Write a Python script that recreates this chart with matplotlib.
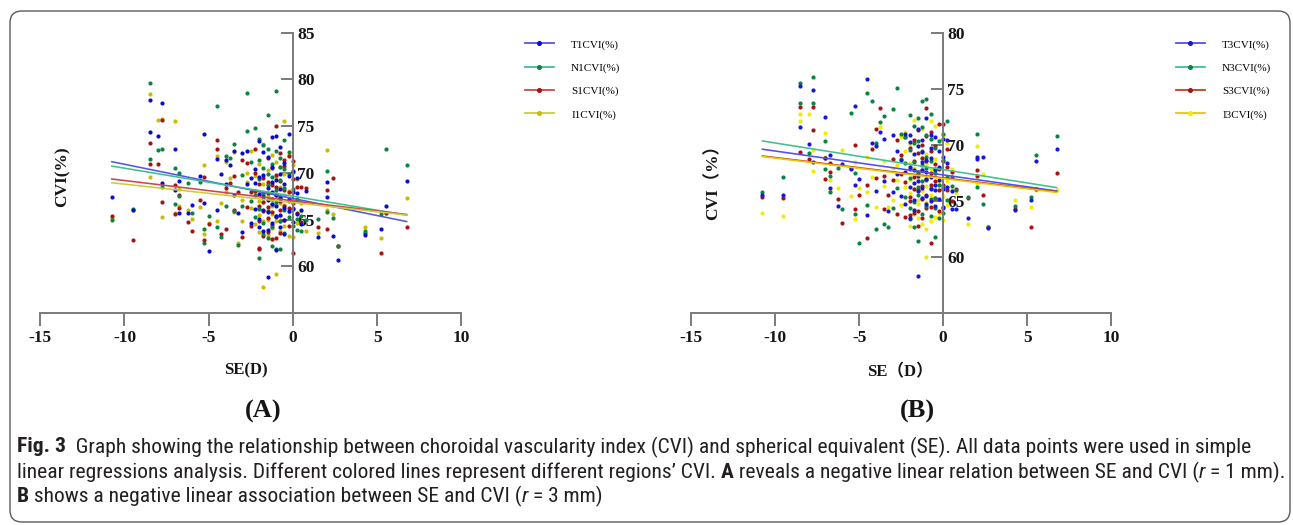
import numpy as np
import matplotlib
matplotlib.use('Agg')
import matplotlib.pyplot as plt
from matplotlib import font_manager
from matplotlib.lines import Line2D
from matplotlib.patches import FancyBboxPatch
from matplotlib.transforms import IdentityTransform

# ---- data: one SE value per subject, shared by every series and both panels
se = [-10.75, -9.5, -8.5, -8.5, -8.0, -7.75, -7.75, -7.0, -7.0, -6.75,
      -6.75, -6.25, -6.0, -5.5, -5.25, -5.25, -5.0, -4.5, -4.5, -4.25,
      -4.0, -4.0, -3.75, -3.5, -3.5, -3.25, -3.0, -3.0, -2.75, -2.75,
      -2.5, -2.5, -2.25, -2.25, -2.25, -2.0, -2.0, -2.0, -2.0, -2.0,
      -1.75, -1.75, -1.75, -1.75, -1.75, -1.5, -1.5, -1.5, -1.5, -1.5,
      -1.5, -1.25, -1.25, -1.25, -1.25, -1.25, -1.25, -1.0, -1.0, -1.0,
      -1.0, -1.0, -1.0, -0.75, -0.75, -0.75, -0.75, -0.75, -0.75, -0.5,
      -0.5, -0.5, -0.5, -0.5, -0.25, -0.25, -0.25, -0.25, 0.0, 0.0,
      0.0, 0.0, 0.25, 0.25, 0.25, 0.5, 0.5, 0.75, 1.5, 2.0,
      2.0, 2.4, 2.65, 4.25, 5.25, 5.5, 6.75]

# CVI (%) r = 1 mm
t1 = [67.4, 66.0, 77.8, 74.4, 73.9, 77.5, 68.9, 72.6, 68.2, 69.1,
      65.7, 65.7, 66.6, 69.7, 74.2, 66.8, 61.6, 71.5, 66.0, 69.9,
      68.8, 71.4, 70.8, 72.3, 67.6, 65.7, 72.1, 63.7, 68.8, 72.3,
      64.6, 69.4, 70.4, 66.1, 68.9, 73.4, 65.1, 67.7, 64.2, 69.6,
      72.2, 67.4, 63.8, 69.8, 66.0, 58.9, 68.4, 65.8, 71.7, 67.1,
      63.9, 73.8, 66.7, 69.0, 64.6, 67.9, 70.6, 73.9, 61.7, 67.6,
      65.4, 69.2, 66.4, 72.8, 64.2, 67.3, 69.9, 65.5, 68.3, 71.1,
      66.2, 63.5, 68.8, 65.0, 74.2, 67.2, 69.7, 65.9, 70.2, 68.0,
      66.1, 64.7, 69.5, 65.6, 67.8, 66.0, 64.5, 68.1, 63.1, 69.0,
      67.4, 63.2, 60.7, 63.4, 64.0, 66.5, 69.1]
n1 = [65.0, 66.1, 79.6, 71.5, 72.4, 72.6, 68.5, 70.5, 66.7, 70.0,
      67.5, 68.9, 65.7, 69.0, 64.0, 62.5, 65.4, 77.2, 64.2, 63.1,
      71.8, 66.5, 71.6, 73.1, 65.9, 62.3, 69.8, 66.5, 78.5, 74.5,
      71.2, 67.0, 74.8, 67.6, 65.3, 73.6, 60.9, 69.3, 66.1, 71.4,
      73.0, 70.5, 64.6, 67.8, 63.5, 76.2, 72.5, 68.7, 65.9, 63.0,
      69.9, 71.0, 66.7, 64.2, 67.2, 69.6, 62.2, 78.8, 61.9, 68.2,
      72.3, 65.4, 66.9, 70.6, 61.8, 67.4, 64.8, 69.2, 71.6, 73.5,
      66.0, 68.4, 63.6, 70.4, 72.2, 65.3, 69.9, 67.0, 70.1, 64.3,
      68.3, 66.2, 65.1, 67.2, 63.9, 65.4, 63.8, 65.0, 65.1, 70.2,
      65.8, 65.2, 62.2, 63.8, 65.6, 72.6, 70.8]
s1 = [65.4, 62.8, 73.2, 71.0, 70.9, 75.7, 66.9, 68.7, 65.6, 67.6,
      66.2, 64.7, 63.8, 67.1, 69.6, 62.8, 64.5, 73.5, 72.5, 63.5,
      64.0, 68.4, 68.9, 66.0, 69.7, 67.9, 71.4, 63.1, 71.1, 66.3,
      67.9, 64.3, 72.6, 68.1, 70.0, 62.0, 66.5, 64.8, 68.8, 61.8,
      69.5, 66.9, 63.2, 65.9, 67.6, 71.6, 65.2, 69.0, 63.7, 67.8,
      66.3, 70.5, 62.9, 68.7, 65.8, 67.2, 64.4, 75.0, 63.0, 67.6,
      69.8, 65.3, 68.5, 72.1, 64.9, 67.0, 69.1, 66.0, 63.6, 70.7,
      66.4, 68.2, 65.0, 71.4, 71.8, 64.3, 68.0, 66.2, 71.3, 61.4,
      69.3, 66.8, 68.5, 65.7, 67.1, 68.5, 64.7, 68.4, 64.2, 68.2,
      64.0, 69.4, 62.2, 63.6, 61.4, 65.7, 64.2]
i1 = [65.2, 66.0, 78.4, 69.6, 75.7, 75.8, 65.3, 75.6, 65.7, 68.3,
      66.4, 66.0, 65.1, 66.3, 70.8, 63.5, 64.6, 71.8, 64.9, 66.8,
      71.2, 68.0, 69.4, 65.8, 72.2, 62.5, 67.1, 64.8, 70.0, 69.0,
      66.2, 72.3, 69.7, 64.5, 68.1, 70.9, 63.7, 67.0, 65.5, 66.2,
      73.1, 57.8, 64.8, 66.9, 68.8, 66.0, 63.4, 70.3, 65.0, 67.5,
      68.8, 64.1, 71.9, 66.4, 62.9, 68.9, 65.6, 59.2, 66.6, 69.6,
      64.8, 67.7, 71.2, 68.5, 63.8, 66.8, 70.6, 65.4, 67.3, 75.5,
      64.3, 69.9, 66.6, 67.6, 71.9, 63.2, 68.1, 65.8, 70.8, 63.1,
      66.9, 68.0, 69.3, 64.6, 67.1, 65.9, 66.8, 63.8, 63.6, 72.4,
      66.0, 65.6, 62.2, 64.2, 63.0, 65.7, 67.3]

# CVI (%) r = 3 mm
t3 = [65.6, 65.6, 75.3, 71.6, 70.1, 74.9, 68.5, 72.5, 68.9, 69.1,
      66.2, 64.6, 68.3, 67.9, 73.5, 66.5, 67.0, 75.9, 63.8, 70.2,
      65.9, 69.9, 71.2, 70.6, 66.8, 64.1, 70.9, 65.8, 69.5, 67.4,
      68.7, 65.5, 71.0, 64.8, 67.6, 70.9, 63.5, 68.1, 66.3, 70.3,
      69.2, 66.6, 65.1, 67.8, 64.2, 58.3, 69.9, 67.3, 71.5, 65.9,
      66.8, 70.5, 67.8, 65.3, 68.5, 66.2, 69.4, 72.4, 67.0, 65.5,
      68.7, 64.8, 67.6, 70.9, 66.1, 67.2, 65.0, 68.9, 69.8, 70.7,
      66.5, 64.6, 67.9, 66.0, 69.5, 65.2, 68.1, 66.9, 70.6, 64.5,
      69.0, 66.1, 70.5, 66.3, 68.4, 65.9, 64.3, 64.3, 63.5, 69.0,
      68.8, 69.0, 62.6, 64.2, 65.1, 68.6, 69.7]
n3 = [65.8, 67.2, 75.6, 73.8, 69.3, 76.1, 73.8, 70.4, 67.9, 67.3,
      65.8, 68.0, 64.3, 72.9, 67.5, 63.9, 61.3, 74.7, 64.7, 74.0,
      62.5, 70.2, 72.1, 72.6, 63.0, 62.7, 73.2, 64.4, 75.1, 66.2,
      71.0, 68.8, 70.7, 65.4, 68.4, 72.7, 63.4, 67.1, 64.4, 69.6,
      71.7, 68.5, 64.9, 70.2, 62.7, 61.5, 72.4, 67.6, 65.6, 70.4,
      66.3, 74.0, 68.2, 63.9, 69.5, 66.8, 71.6, 74.1, 64.6, 69.0,
      66.9, 70.9, 68.0, 72.8, 63.7, 66.2, 68.6, 65.2, 70.6, 61.8,
      67.5, 65.3, 69.8, 64.4, 70.4, 63.5, 68.0, 66.5, 71.0, 64.0,
      68.7, 66.3, 72.2, 65.1, 67.2, 67.2, 66.4, 66.0, 65.4, 71.0,
      66.3, 64.8, 62.7, 64.6, 65.4, 69.1, 70.8]
s3 = [65.4, 65.3, 73.4, 69.4, 68.8, 73.4, 71.4, 68.9, 67.0, 68.4,
      67.6, 65.2, 63.1, 68.0, 70.0, 64.3, 65.6, 61.7, 66.5, 69.7,
      67.1, 71.5, 73.3, 67.3, 64.3, 65.6, 68.8, 66.9, 70.5, 63.9,
      69.1, 67.4, 70.7, 63.6, 66.7, 65.0, 67.9, 69.8, 65.4, 63.8,
      70.5, 67.2, 64.0, 66.1, 68.6, 71.4, 64.1, 69.3, 66.0, 62.8,
      67.6, 70.0, 65.2, 67.8, 63.5, 68.9, 66.4, 73.3, 64.4, 67.0,
      70.8, 65.6, 68.6, 61.3, 69.5, 66.5, 67.5, 71.2, 64.5, 69.9,
      66.8, 68.3, 65.3, 67.8, 71.9, 64.1, 67.9, 66.0, 71.9, 64.4,
      68.6, 66.5, 69.7, 66.0, 68.1, 67.6, 65.0, 66.1, 65.3, 67.8,
      67.3, 65.6, 62.7, 64.3, 62.7, 66.1, 67.5]
i3 = [64.0, 63.7, 72.8, 72.2, 72.8, 69.6, 67.7, 71.1, 69.0, 66.9,
      66.0, 66.2, 69.6, 65.5, 68.5, 63.4, 66.2, 65.8, 69.0, 67.2,
      64.5, 70.0, 71.6, 68.6, 66.4, 64.5, 68.0, 65.1, 68.2, 66.9,
      70.7, 64.7, 71.2, 66.3, 69.5, 70.1, 62.8, 68.4, 65.7, 66.9,
      72.3, 64.2, 66.1, 68.0, 63.9, 67.0, 65.1, 69.9, 63.5, 67.5,
      64.8, 68.9, 66.0, 71.5, 63.0, 65.9, 67.6, 60.0, 62.5, 69.2,
      66.4, 68.3, 64.9, 70.6, 63.2, 67.9, 65.6, 69.7, 72.2, 71.7,
      66.5, 63.6, 68.8, 67.3, 70.5, 64.0, 68.0, 66.8, 70.9, 63.3,
      68.6, 65.5, 70.2, 66.8, 64.7, 66.0, 67.9, 65.7, 63.0, 69.9,
      66.6, 67.4, 62.7, 65.1, 64.5, 66.0, 66.0]

# fitted regression lines (intercept, slope), order T, N, S, I
fit_a_icpt = [67.26, 67.50, 67.01, 66.82]
fit_a_slope = [-0.366, -0.300, -0.217, -0.197]
fit_b_icpt = [67.36, 67.83, 67.09, 67.03]
fit_b_slope = [-0.213, -0.238, -0.182, -0.183]

labels_a = ['T1CVI(%)', 'N1CVI(%)', 'S1CVI(%)', 'I1CVI(%)']
labels_b = ['T3CVI(%)', 'N3CVI(%)', 'S3CVI(%)', 'I3CVI(%)']
xticks = [-15, -10, -5, 0, 5, 10]
yticks_a = [60, 65, 70, 75, 80, 85]
yticks_b = [60, 65, 70, 75, 80]

for arr in (t1, n1, s1, i1, t3, n3, s3, i3):
    assert len(arr) == len(se)

# ---- styling
W, H = 1293, 525
plt.rcParams['axes.unicode_minus'] = False
avail = {f.name for f in font_manager.fontManager.ttflist}


def pick(cands):
    for c in cands:
        if c in avail:
            return c
    return 'DejaVu Sans'


SERIF = pick(['Liberation Serif', 'DejaVu Serif'])
CJK = pick(['Noto Sans CJK SC', 'Noto Sans CJK JP', 'DejaVu Sans'])
CAPFONT = pick(['Liberation Sans Narrow', 'Roboto Condensed', 'Open Sans Condensed',
                'Noto Sans', 'Open Sans', 'DejaVu Sans'])

AXIS_GRAY = '#7a7a7a'
dot_a = ['#0a0ad2', '#0a8442', '#a81212', '#c4bf00']
line_a = ['#5555e6', '#3fbf8f', '#cc4848', '#cccc3a']
dot_b = ['#1616e0', '#0a8442', '#a81212', '#f0ee00']
line_b = ['#5050f0', '#40c090', '#c04020', '#f0c400']

fig = plt.figure(figsize=(W / 100, H / 100), dpi=100)


def px_box(left, top, right, bottom):
    return [left / W, 1 - bottom / H, (right - left) / W, (bottom - top) / H]


def build_panel(rect, series, icpts, slopes, dots, lines, labels, ymax, yticks, legend_xy):
    ax = fig.add_axes(rect)
    ax.set_xlim(-15, 10)
    ax.set_ylim(55, ymax)
    xs = np.array([min(se), max(se)])
    # scatter: inferior first so temporal ends up on top
    for k in (3, 2, 1, 0):
        ax.scatter(se, series[k], s=9, color=dots[k], linewidths=0, zorder=2)
    for k in range(4):
        ax.plot(xs, icpts[k] + slopes[k] * xs, color=lines[k], lw=1.15, zorder=3)

    ax.spines['top'].set_visible(False)
    ax.spines['left'].set_visible(False)
    ax.spines['right'].set_position(('data', 0))
    for s in ('right', 'bottom'):
        ax.spines[s].set_color(AXIS_GRAY)
        ax.spines[s].set_linewidth(1.4)
    ax.yaxis.tick_right()
    ax.set_xticks(xticks)
    ax.set_yticks(yticks)
    ax.tick_params(axis='y', direction='in', length=9, width=1.4, color=AXIS_GRAY, pad=3)
    ax.tick_params(axis='x', direction='out', length=9, width=1.4, color=AXIS_GRAY, pad=3)
    for lbl in ax.get_xticklabels() + ax.get_yticklabels():
        lbl.set_fontfamily(SERIF)
        lbl.set_fontweight('bold')
        lbl.set_fontsize(12.5)
        lbl.set_color('#151515')
    ax.patch.set_alpha(0)

    handles = [Line2D([], [], color=lines[k], lw=1.3, marker='o', ms=2.6,
                      mfc=dots[k], mec=dots[k]) for k in range(4)]
    fig.legend(handles, labels, loc='upper left',
               bbox_to_anchor=(legend_xy[0] / W, 1 - legend_xy[1] / H),
               frameon=False, borderpad=0, borderaxespad=0,
               handlelength=2.6, handletextpad=1.55, labelspacing=1.2,
               prop={'family': SERIF, 'size': 8})
    return ax


build_panel(px_box(40.2, 32.7, 461.4, 313.0), [t1, n1, s1, i1],
            fit_a_icpt, fit_a_slope, dot_a, line_a, labels_a, 85, yticks_a, (525, 39.5))
build_panel(px_box(691.0, 33.3, 1111.2, 313.3), [t3, n3, s3, i3],
            fit_b_icpt, fit_b_slope, dot_b, line_b, labels_b, 80, yticks_b, (1176, 39.5))

# axis titles and panel letters
lab = dict(fontweight='bold', color='#151515', ha='center', va='center')
fig.text(62.8 / W, 1 - 176.7 / H, 'CVI(%)', rotation=90, fontsize=12.5, family=SERIF, **lab)
fig.text(245.6 / W, 1 - 370.8 / H, 'SE(D)', fontsize=12, family=SERIF, **lab)
fig.text(713.5 / W, 1 - 177.6 / H, 'CVI（%）', rotation=90, fontsize=12.5,
         family=[SERIF, CJK], **lab)
fig.text(900.0 / W, 1 - 372.0 / H, 'SE（D）', fontsize=12, family=[SERIF, CJK], **lab)
fig.text(263 / W, 1 - 411 / H, '(A)', fontsize=19, family=SERIF, **lab)
fig.text(917 / W, 1 - 411 / H, '(B)', fontsize=19, family=SERIF, **lab)

# caption, drawn run by run so bold / italic pieces sit inline
CAP_COLOR = '#231f20'
cap_lines = [
    [('Fig. 3', 'bold', 'normal'),
     ('  Graph showing the relationship between choroidal vascularity index (CVI) and '
      'spherical equivalent (SE). All data points were used in simple', 'normal', 'normal')],
    [('linear regressions analysis. Different colored lines represent different regions\u2019 CVI.',
      'normal', 'normal'),
     (' A', 'bold', 'normal'),
     (' reveals a negative linear relation between SE and CVI (', 'normal', 'normal'),
     ('r', 'normal', 'italic'),
     (' = 1 mm).', 'normal', 'normal')],
    [('B', 'bold', 'normal'),
     (' shows a negative linear association between SE and CVI (', 'normal', 'normal'),
     ('r', 'normal', 'italic'),
     (' = 3 mm)', 'normal', 'normal')],
]
renderer = fig.canvas.get_renderer()


def draw_runs(x_px, y_px, runs, size, visible=True):
    x = x_px
    for text, weight, style in runs:
        t = fig.text(x / W, 1 - y_px / H, text, fontsize=size, fontweight=weight,
                     fontstyle=style, family=CAPFONT, color=CAP_COLOR,
                     ha='left', va='center')
        x += t.get_window_extent(renderer).width
        if not visible:
            t.remove()
    return x - x_px


base = 10.0
w1 = draw_runs(0, -50, cap_lines[0], base, visible=False)
w2 = draw_runs(0, -50, cap_lines[1], base, visible=False)
cap_size = base * min(1258 / w1, 1258 / w2)
for runs, y in zip(cap_lines, (447, 472, 496)):
    draw_runs(17, y, runs, cap_size)

# rounded frame around the whole figure
frame = FancyBboxPatch((10, 3), 1280, 511, boxstyle='round,pad=0,rounding_size=12',
                       transform=IdentityTransform(), facecolor='none',
                       edgecolor='#5a5a5a', linewidth=1.0)
fig.patches.append(frame)

fig.savefig('out.png', dpi=100)
